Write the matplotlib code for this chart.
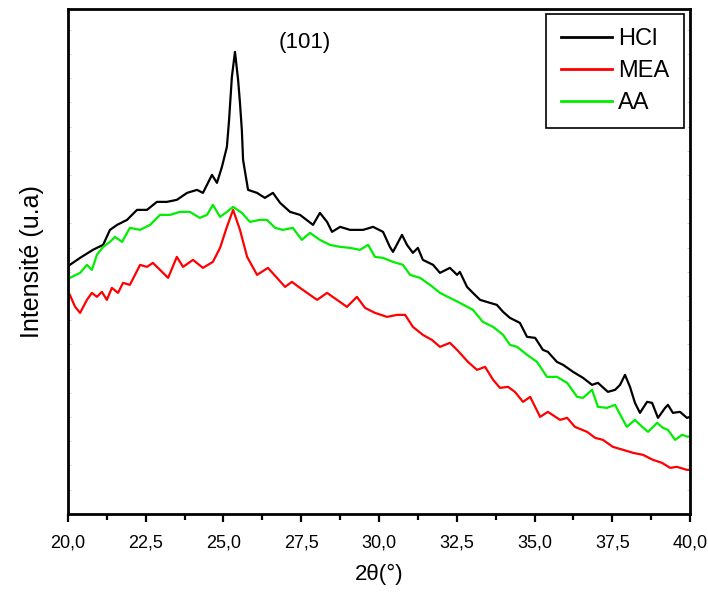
import matplotlib
matplotlib.use("Agg")
import matplotlib.pyplot as plt
from matplotlib.ticker import MultipleLocator, FuncFormatter

# XRD patterns, values (arbitrary intensity units)
hcl_2theta = [20.0, 20.06, 20.39, 20.80, 21.13, 21.35, 21.58, 21.90, 22.22, 22.54, 22.86,
              23.18, 23.50, 23.83, 24.15, 24.34, 24.63, 24.79, 24.95, 25.11, 25.18,
              25.27, 25.37, 25.47, 25.53, 25.59, 25.63, 25.79, 26.08, 26.33, 26.59,
              26.82, 27.14, 27.46, 27.88, 28.10, 28.33, 28.49, 28.75, 29.07, 29.49,
              29.81, 30.13, 30.35, 30.45, 30.74, 30.90, 31.09, 31.25, 31.41, 31.74,
              31.96, 32.28, 32.51, 32.60, 32.83, 33.02, 33.25, 33.57, 33.79, 33.99,
              34.21, 34.53, 34.76, 35.02, 35.27, 35.43, 35.72, 35.92, 36.24, 36.56,
              36.85, 37.04, 37.36, 37.59, 37.75, 37.91, 38.07, 38.23, 38.39, 38.62,
              38.78, 38.97, 39.20, 39.29, 39.45, 39.68, 39.90, 40.0]
hcl_int = [247, 249, 256, 264, 269, 284, 289, 294, 304, 304, 312,
           312, 314, 321, 324, 321, 339, 331, 347, 367, 394,
           437, 462, 434, 411, 384, 354, 324, 321, 316, 321,
           311, 302, 299, 289, 301, 292, 282, 287, 284, 284,
           287, 282, 267, 262, 279, 269, 261, 266, 254, 249,
           241, 246, 239, 242, 227, 221, 214, 211, 209, 202,
           196, 191, 177, 176, 164, 162, 152, 149, 142, 136,
           129, 131, 122, 124, 129, 139, 127, 111, 101, 112,
           111, 96, 106, 109, 101, 102, 96, 97]

mea_2theta = [20.0, 20.06, 20.23, 20.39, 20.61, 20.77, 20.93, 21.09, 21.25, 21.41, 21.61,
              21.77, 21.99, 22.32, 22.54, 22.73, 22.96, 23.22, 23.50, 23.70, 24.02,
              24.34, 24.66, 24.89, 25.11, 25.31, 25.53, 25.76, 26.08, 26.43, 26.72,
              26.98, 27.20, 27.46, 28.01, 28.33, 28.65, 28.97, 29.29, 29.55, 29.87,
              30.26, 30.58, 30.84, 31.09, 31.41, 31.70, 31.96, 32.28, 32.51, 32.86,
              33.15, 33.41, 33.67, 33.89, 34.15, 34.37, 34.63, 34.86, 35.18, 35.43,
              35.82, 36.05, 36.30, 36.69, 36.95, 37.20, 37.52, 37.85, 38.17, 38.49,
              38.81, 39.10, 39.36, 39.58, 39.90, 40.0]
mea_int = [222, 219, 207, 201, 214, 221, 217, 222, 214, 226, 221,
           231, 229, 249, 247, 251, 244, 236, 257, 247, 254,
           246, 252, 266, 287, 304, 284, 257, 239, 246, 236,
           227, 232, 226, 214, 221, 214, 207, 217, 206, 201,
           197, 199, 199, 187, 179, 174, 167, 171, 164, 152,
           144, 147, 134, 126, 127, 122, 112, 117, 97, 102,
           94, 96, 87, 82, 76, 74, 67, 64, 61, 59,
           54, 51, 46, 47, 44, 44]

aa_2theta = [20.0, 20.06, 20.39, 20.61, 20.77, 20.93, 21.13, 21.35, 21.51, 21.74, 21.99,
             22.32, 22.64, 22.96, 23.28, 23.60, 23.92, 24.24, 24.47, 24.66, 24.89,
             25.11, 25.31, 25.59, 25.85, 26.17, 26.40, 26.66, 26.91, 27.23, 27.52,
             27.78, 28.10, 28.42, 28.75, 29.07, 29.39, 29.65, 29.87, 30.13, 30.45,
             30.77, 31.00, 31.32, 31.64, 31.96, 32.28, 32.60, 33.02, 33.34, 33.67,
             33.99, 34.21, 34.44, 34.76, 35.08, 35.40, 35.72, 36.05, 36.37, 36.56,
             36.85, 37.04, 37.33, 37.59, 37.81, 37.97, 38.23, 38.46, 38.65, 38.94,
             39.13, 39.29, 39.52, 39.74, 39.94, 40.0]
aa_int = [234, 236, 241, 249, 244, 259, 267, 272, 277, 272, 286,
          284, 289, 299, 299, 302, 302, 296, 299, 309, 297,
          302, 307, 301, 292, 294, 294, 286, 284, 286, 274,
          281, 274, 269, 267, 266, 264, 269, 257, 256, 252,
          249, 239, 236, 229, 221, 216, 211, 204, 192, 187,
          179, 169, 167, 159, 152, 137, 137, 131, 117, 116,
          124, 107, 106, 109, 96, 87, 94, 87, 82, 91,
          86, 84, 74, 79, 77, 78]

plt.rcParams['font.family'] = ['Liberation Sans', 'DejaVu Sans']

fig = plt.figure(figsize=(7.08, 5.92), dpi=100)
ax = fig.add_axes([0.096, 0.132, 0.8786, 0.853])

ax.plot(hcl_2theta, hcl_int, color='black', lw=1.6, label='HCl')
ax.plot(mea_2theta, mea_int, color='#ff0000', lw=1.6, label='MEA')
ax.plot(aa_2theta, aa_int, color='#00ee00', lw=1.6, label='AA')

ax.set_xlim(20, 40)
ax.set_ylim(0, 505)

ax.xaxis.set_major_locator(MultipleLocator(2.5))
ax.xaxis.set_minor_locator(MultipleLocator(1.25))
ax.xaxis.set_major_formatter(FuncFormatter(lambda v, p: f"{v:.1f}".replace('.', ',')))
ax.tick_params(axis='x', which='major', direction='out', length=6, width=1.6,
               labelsize=13, pad=9, top=False)
ax.tick_params(axis='x', which='minor', direction='out', length=4, width=1.6, top=False)

# faint inner ticks on both vertical spines, no labels
ax.yaxis.set_major_locator(MultipleLocator(24.2))
ax.tick_params(axis='y', which='major', direction='in', length=2.5, width=0.5,
               color='#bbbbbb', left=True, right=True, labelleft=False)

for sp in ax.spines.values():
    sp.set_linewidth(2.0)

ax.set_xlabel('2θ(°)', fontsize=16, labelpad=9)
ax.set_ylabel('Intensité (u.a)', fontsize=18, labelpad=17)

ax.text(27.6, 471, '(101)', fontsize=16, ha='center', va='center')

leg = ax.legend(loc='upper right', bbox_to_anchor=(0.99, 0.99), borderaxespad=0,
                fontsize=17, handlelength=2.2, handletextpad=0.25, labelspacing=0.42,
                fancybox=False, framealpha=1, borderpad=0.6)
leg.get_frame().set_edgecolor('black')
leg.get_frame().set_linewidth(1.2)
for line in leg.get_lines():
    line.set_linewidth(2.0)

fig.savefig('out.png', dpi=100)
